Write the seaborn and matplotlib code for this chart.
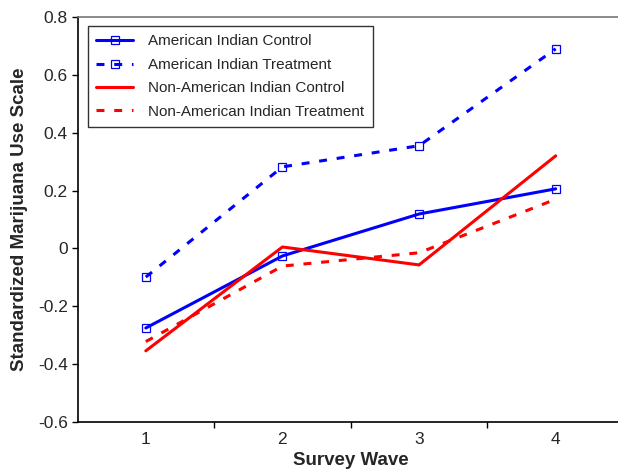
import numpy as np
import pandas as pd
import seaborn as sns
import matplotlib.pyplot as plt

waves = ['1', '2', '3', '4']
ai_control = [-0.275, -0.026, 0.119, 0.206]
ai_treatment = [-0.099, 0.282, 0.355, 0.690]
nonai_control = [-0.354, 0.005, -0.057, 0.320]
nonai_treatment = [-0.322, -0.061, -0.015, 0.170]

series = [
    ('American Indian Control', ai_control, 'blue', '-', True),
    ('American Indian Treatment', ai_treatment, 'blue', '--', True),
    ('Non-American Indian Control', nonai_control, 'red', '-', False),
    ('Non-American Indian Treatment', nonai_treatment, 'red', '--', False),
]

sns.set_style('white')
plt.rcParams['font.family'] = ['Liberation Sans', 'DejaVu Sans']

fig = plt.figure(figsize=(6.18, 4.73), dpi=100)
ax = fig.add_axes([77.5 / 618, 1 - 422 / 473, 546.5 / 618, 405 / 473])

for name, vals, col, ls, mark in series:
    df = pd.DataFrame({'wave': waves, 'val': vals})
    kw = dict(marker='s', markersize=5.5, markerfacecolor='none',
              markeredgecolor=col, markeredgewidth=0.9) if mark else {}
    sns.lineplot(data=df, x='wave', y='val', ax=ax, color=col, linewidth=2.2,
                 label=name, sort=False, **kw)
    if ls == '--':
        ax.lines[-1].set_dashes((2.6, 3.2))

ax.set_xlim(-0.5, 3.5)
ax.set_ylim(-0.6, 0.8)
ax.set_yticks(np.arange(-0.6, 0.81, 0.2))
ax.set_yticklabels(['-0.6', '-0.4', '-0.2', '0', '0.2', '0.4', '0.6', '0.8'])
ax.set_xticks([0, 1, 2, 3])
ax.set_xticks([0.5, 1.5, 2.5], minor=True)
ax.tick_params(axis='x', which='major', length=0, labelsize=12.5, pad=7)
ax.tick_params(axis='x', which='minor', length=4, width=1, color='black', direction='out', bottom=True)
ax.tick_params(axis='y', length=4, width=1, color='black', direction='out', left=True, labelsize=12.5, pad=3)

for s in ['left', 'bottom']:
    ax.spines[s].set_color('black')
    ax.spines[s].set_linewidth(1.2)
ax.spines['top'].set_color('#777777')
ax.spines['top'].set_linewidth(1.2)
ax.spines['right'].set_visible(False)

ax.set_xlabel('Survey Wave', fontsize=13.5, fontweight='bold', labelpad=4)
ax.set_ylabel('Standardized Marijuana Use Scale', fontsize=13.5, fontweight='bold', labelpad=7)

leg = ax.legend(loc='upper left', bbox_to_anchor=(88 / 618, 1 - 26 / 473),
                bbox_transform=fig.transFigure, fontsize=11, handlelength=2.4,
                frameon=True, fancybox=False, borderpad=0.55, labelspacing=0.62,
                handletextpad=1.0, borderaxespad=0)
leg.get_frame().set_edgecolor('black')
leg.get_frame().set_linewidth(1.0)

fig.savefig('out.png', dpi=100)
